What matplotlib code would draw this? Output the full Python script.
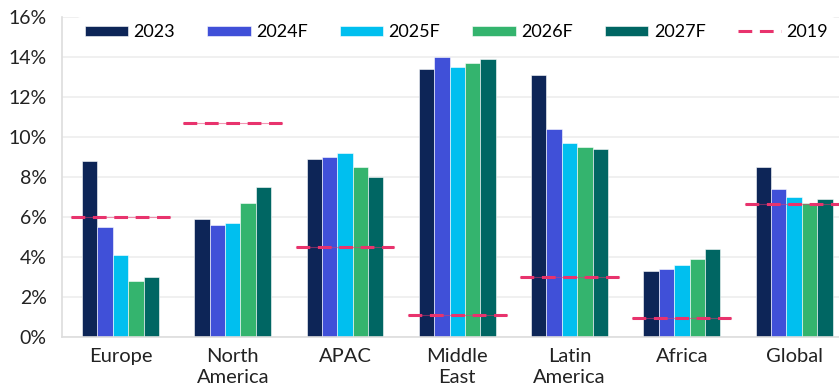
import numpy as np
import matplotlib
matplotlib.use("Agg")
import matplotlib.pyplot as plt

plt.rcParams['font.family'] = ['Lato', 'DejaVu Sans']

regions = ["Europe", "North\nAmerica", "APAC", "Middle\nEast", "Latin\nAmerica", "Africa", "Global"]
series_names = ["2023", "2024F", "2025F", "2026F", "2027F"]
v2023 = [8.8, 5.9, 8.9, 13.4, 13.1, 3.3, 8.5]
v2024 = [5.5, 5.6, 9.0, 14.0, 10.4, 3.4, 7.4]
v2025 = [4.1, 5.7, 9.2, 13.5, 9.7, 3.6, 7.0]
v2026 = [2.8, 6.7, 8.5, 13.7, 9.5, 3.9, 6.7]
v2027 = [3.0, 7.5, 8.0, 13.9, 9.4, 4.4, 6.9]
v2019 = [6.0, 10.7, 4.5, 1.1, 3.0, 0.95, 6.65]
yticks = [0, 2, 4, 6, 8, 10, 12, 14, 16]

colors = ["#0D2557", "#4050D8", "#00BFEF", "#34B46E", "#006663"]
pink = "#E8336D"

fig = plt.figure(figsize=(8.39, 3.92), dpi=100)
ax = fig.add_axes([0.074, 0.14, 0.926, 0.817])

x = np.arange(len(regions))
w = 0.137
handles = []
for i, vals in enumerate([v2023, v2024, v2025, v2026, v2027]):
    b = ax.bar(x + (i - 2) * w, vals, width=w, color=colors[i], edgecolor="white",
               linewidth=0.4, zorder=2)
    handles.append(b)

for xi, v in zip(x, v2019):
    ax.plot([xi - 0.44, xi + 0.44], [v, v], color=pink, linewidth=0.8, alpha=0.5, zorder=3)
    ln, = ax.plot([xi - 0.44, xi + 0.44], [v, v], color=pink, linestyle=(0, (4.5, 2.5)),
                  linewidth=2.2, zorder=3)
handles.append(ln)

ax.set_xlim(-0.52, 6.4)
ax.set_ylim(0, 16)
ax.set_yticks(yticks)
ax.set_yticklabels([f"{t}%" for t in yticks])
ax.set_xticks(x)
ax.set_xticklabels(regions, linespacing=1.3)
ax.tick_params(axis="both", length=0, colors="#222222")
ax.tick_params(axis="y", pad=11, labelsize=14)
ax.tick_params(axis="x", pad=8, labelsize=14.5)
ax.grid(axis="y", color="#EEEEEE", linewidth=1.2, zorder=0)
for s in ["top", "right"]:
    ax.spines[s].set_visible(False)
ax.spines["left"].set_color("#DDDDDD")
ax.spines["bottom"].set_color("#DDDDDD")
ax.spines["left"].set_linewidth(1.2)
ax.spines["bottom"].set_linewidth(1.2)

leg = ax.legend(handles, series_names + ["2019"], loc="upper left", bbox_to_anchor=(0.0198, 1.0),
                ncol=6, frameon=True, facecolor="white", edgecolor="none", framealpha=1,
                fontsize=13, handlelength=2.4, handleheight=0.5,
                handletextpad=0.3, columnspacing=1.78, borderaxespad=0)
leg.set_zorder(5)

fig.savefig("out.png", dpi=100)
